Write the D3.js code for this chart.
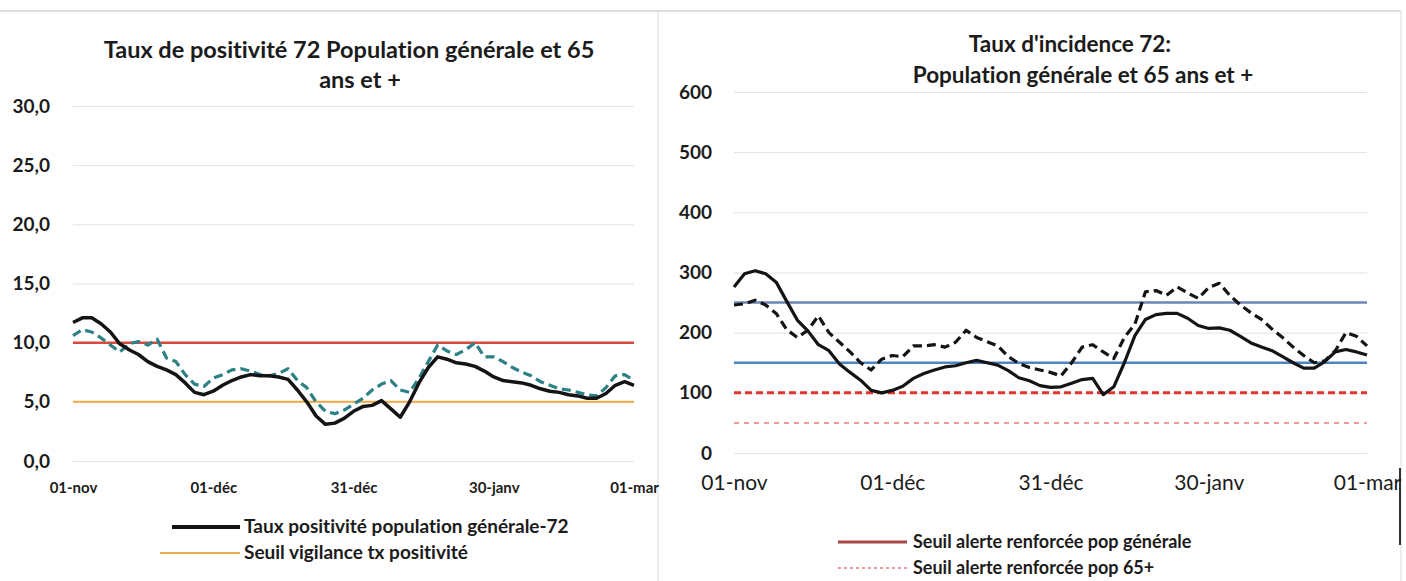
<!DOCTYPE html>
<html lang="fr">
<head>
<meta charset="UTF-8">
<title>Taux de positivité et taux d'incidence 72</title>
<script src="https://d3js.org/d3.v7.min.js"></script>
<style>
  body { margin: 0; background: #fff; }
  svg { display: block; font-family: Lato, "Open Sans", sans-serif; font-variant-ligatures: none; }
</style>
</head>
<body>
<div id="chart"></div>
<script>
// Données : un point tous les 2 jours depuis le 01-nov
const jours = [0, 2, 4, 6, 8, 10, 12, 14, 16, 18, 20, 22, 24, 26, 28, 30, 32, 34, 36, 38, 40,
  42, 44, 46, 48, 50, 52, 54, 56, 58, 60, 62, 64, 66, 68, 70, 72, 74, 76, 78, 80,
  82, 84, 86, 88, 90, 92, 94, 96, 98, 100, 102, 104, 106, 108, 110, 112, 114, 116, 118, 120];

// Taux de positivité (%)
const positiviteGen = [11.7, 12.1, 12.1, 11.6, 10.9, 9.9, 9.4, 9.0, 8.4, 8.0, 7.7,
  7.3, 6.6, 5.8, 5.6, 5.9, 6.4, 6.8, 7.1, 7.3, 7.2,
  7.2, 7.1, 6.9, 6.0, 5.0, 3.8, 3.1, 3.2, 3.6, 4.2,
  4.6, 4.7, 5.1, 4.4, 3.7, 5.0, 6.6, 7.9, 8.8, 8.6,
  8.3, 8.2, 8.0, 7.6, 7.1, 6.8, 6.7, 6.6, 6.4, 6.1,
  5.9, 5.8, 5.6, 5.5, 5.3, 5.3, 5.7, 6.4, 6.7, 6.4];
const positivite65 = [10.6, 11.1, 10.9, 10.4, 9.8, 9.2, 9.9, 10.1, 9.8, 10.3, 8.7,
  8.4, 7.3, 6.5, 6.3, 7.0, 7.3, 7.7, 7.8, 7.6, 7.3,
  7.2, 7.4, 7.8, 6.8, 6.2, 5.0, 4.2, 4.0, 4.3, 4.8,
  5.3, 6.0, 6.5, 6.8, 6.0, 5.8, 7.0, 8.4, 9.8, 9.3,
  9.0, 9.4, 10.0, 8.8, 8.8, 8.4, 7.9, 7.5, 7.2, 6.7,
  6.4, 6.1, 6.0, 5.8, 5.6, 5.5, 6.2, 7.2, 7.3, 6.8];
const seuilAlertePositivite = 10;
const seuilVigilancePositivite = 5;

// Taux d'incidence (pour 100 000)
const incidenceGen = [276, 298, 303, 298, 284, 252, 221, 203, 180, 170, 148,
  134, 121, 104, 100, 104, 111, 124, 132, 138, 143,
  145, 150, 154, 150, 146, 137, 125, 120, 112, 109,
  110, 116, 122, 124, 97, 110, 150, 195, 222, 230,
  232, 232, 224, 212, 207, 208, 204, 194, 183, 176,
  170, 160, 150, 141, 141, 152, 168, 172, 168, 163];
const incidence65 = [246, 248, 254, 246, 232, 205, 192, 204, 228, 200, 184,
  168, 150, 138, 156, 162, 160, 178, 178, 180, 176,
  184, 204, 192, 185, 178, 160, 149, 142, 138, 134,
  128, 150, 176, 180, 168, 157, 192, 214, 268, 270,
  262, 276, 266, 257, 275, 282, 262, 246, 233, 222,
  206, 192, 176, 162, 150, 153, 170, 200, 194, 178];
const seuilsIncidence = [250, 150, 100, 50];

const ticksDates = ["2020-11-01", "2020-12-01", "2020-12-31", "2021-01-30", "2021-03-01"];
const ticksLabels = ["01-nov", "01-déc", "31-déc", "30-janv", "01-mar"];
const ticksPositivite = [0, 5, 10, 15, 20, 25, 30];
const ticksIncidence = [0, 100, 200, 300, 400, 500, 600];

const titrePositivite = ["Taux de positivité 72 Population générale et 65", "ans et +"];
const titreIncidence = ["Taux d'incidence 72:", "Population générale et 65 ans et +"];
const legendePositivite = ["Taux positivité population générale-72", "Seuil vigilance tx positivité"];
const legendeIncidence = ["Seuil alerte renforcée pop générale", "Seuil alerte renforcée pop 65+"];

const width = 1406, height = 581;
const svg = d3.select('#chart').append('svg')
  .attr('width', width)
  .attr('height', height);

const parse = d3.timeParse('%Y-%m-%d');
const debut = parse(ticksDates[0]);
const fin = parse(ticksDates[ticksDates.length - 1]);
const dates = jours.map(j => d3.timeDay.offset(debut, j));
const fr = d3.formatLocale({ decimal: ',', thousands: ' ', grouping: [3], currency: ['', ' €'] });

// cadres du document scanné
svg.append('line').attr('x1', 0).attr('x2', 1401).attr('y1', 11).attr('y2', 11)
  .attr('stroke', '#d4d4d4').attr('stroke-width', 1.5);
svg.append('line').attr('x1', 658).attr('x2', 658).attr('y1', 11).attr('y2', height)
  .attr('stroke', '#dcdcdc');
svg.append('line').attr('x1', 1401).attr('x2', 1401).attr('y1', 11).attr('y2', height)
  .attr('stroke', '#dcdcdc');
svg.append('line').attr('x1', 1400).attr('x2', 1400).attr('y1', 468).attr('y2', 545)
  .attr('stroke', '#333').attr('stroke-width', 2);

function panneau(opt) {
  const x = d3.scaleTime().domain([debut, fin]).range([opt.x0, opt.x1]);
  const y = d3.scaleLinear().domain([0, opt.yMax]).range([opt.y0, opt.y1]);
  const g = svg.append('g');

  // grille + graduations verticales
  g.append('g')
    .attr('transform', `translate(${opt.x0},0)`)
    .call(d3.axisLeft(y).tickValues(opt.yTicks).tickFormat(opt.yFormat)
      .tickSize(-(opt.x1 - opt.x0)).tickPadding(opt.yPad))
    .call(a => a.select('.domain').remove())
    .call(a => a.selectAll('line').attr('stroke', '#e2e2e2'))
    .call(a => a.selectAll('text').attr('font-size', opt.yFont).attr('font-weight', 700)
      .attr('fill', '#1b1b1b').attr('font-family', 'Lato'));

  // axe des dates
  g.append('g')
    .attr('transform', `translate(0,${opt.y0})`)
    .call(d3.axisBottom(x).tickValues(ticksDates.map(parse))
      .tickFormat((d, i) => ticksLabels[i]).tickSize(0).tickPadding(opt.xPad))
    .call(a => a.select('.domain').remove())
    .call(a => a.selectAll('text').attr('font-size', opt.xFont).attr('font-weight', opt.xWeight)
      .attr('fill', '#1b1b1b').attr('font-family', 'Lato'));

  // titre
  g.append('g').selectAll('text')
    .data(opt.titre)
    .join('text')
    .attr('x', (d, i) => opt.titreX[i])
    .attr('y', (d, i) => opt.titreY[i])
    .attr('text-anchor', 'middle')
    .attr('font-size', opt.titreFont)
    .attr('font-weight', 700)
    .attr('fill', '#1b1b1b')
    .text(d => d);

  return { x, y, g };
}

// ---- Panneau gauche : taux de positivité ----
const p1 = panneau({
  x0: 73, x1: 634, y0: 461, y1: 106, yMax: 30,
  yTicks: ticksPositivite, yFormat: fr.format('.1f'), yPad: 23, yFont: 19,
  xPad: 21, xFont: 15, xWeight: 700,
  titre: titrePositivite, titreX: [349, 360], titreY: [58, 88], titreFont: 23.5
});

function seuil(p, v, couleur, largeur, tirets) {
  p.g.append('line')
    .attr('x1', p.x(debut)).attr('x2', p.x(fin))
    .attr('y1', p.y(v)).attr('y2', p.y(v))
    .attr('stroke', couleur)
    .attr('stroke-width', largeur)
    .attr('stroke-dasharray', tirets);
}

function courbe(p, valeurs, couleur, largeur, tirets) {
  const line = d3.line()
    .x((d, i) => p.x(dates[i]))
    .y(d => p.y(d));
  p.g.append('path')
    .datum(valeurs)
    .attr('fill', 'none')
    .attr('stroke', couleur)
    .attr('stroke-width', largeur)
    .attr('stroke-linejoin', 'round')
    .attr('stroke-dasharray', tirets)
    .attr('d', line);
}

seuil(p1, seuilAlertePositivite, '#d9493c', 2.5, null);
seuil(p1, seuilVigilancePositivite, '#eeab45', 2, null);
courbe(p1, positivite65, '#2c8186', 3.2, '9,5');
courbe(p1, positiviteGen, '#141414', 3.5, null);

// ---- Panneau droit : taux d'incidence ----
const p2 = panneau({
  x0: 734, x1: 1367, y0: 453, y1: 92, yMax: 600,
  yTicks: ticksIncidence, yFormat: fr.format('d'), yPad: 22, yFont: 19,
  xPad: 22, xFont: 21, xWeight: 400,
  titre: titreIncidence, titreX: [1070, 1083], titreY: [52, 83], titreFont: 22.5
});

seuil(p2, seuilsIncidence[0], '#6d86b6', 2.5, null);
seuil(p2, seuilsIncidence[1], '#4d84c4', 2.5, null);
seuil(p2, seuilsIncidence[2], '#e0362d', 3, '7,4');
seuil(p2, seuilsIncidence[3], '#f29a9a', 2, '5,5');
courbe(p2, incidence65, '#141414', 3.2, '9,5');
courbe(p2, incidenceGen, '#141414', 3.2, null);

// ---- Légendes ----
const leg1 = svg.append('g').attr('font-size', 19).attr('font-weight', 700).attr('fill', '#1b1b1b');
leg1.append('line').attr('x1', 172).attr('x2', 240).attr('y1', 527).attr('y2', 527)
  .attr('stroke', '#141414').attr('stroke-width', 4);
leg1.append('line').attr('x1', 160).attr('x2', 240).attr('y1', 553).attr('y2', 553)
  .attr('stroke', '#eeab45').attr('stroke-width', 2);
leg1.selectAll('text').data(legendePositivite).join('text')
  .attr('x', 244).attr('y', (d, i) => 533 + i * 26).text(d => d);

const leg2 = svg.append('g').attr('font-size', 18).attr('font-weight', 700).attr('fill', '#1b1b1b');
leg2.append('line').attr('x1', 838).attr('x2', 907).attr('y1', 542).attr('y2', 542)
  .attr('stroke', '#a84848').attr('stroke-width', 3);
leg2.append('line').attr('x1', 838).attr('x2', 907).attr('y1', 568).attr('y2', 568)
  .attr('stroke', '#f29a9a').attr('stroke-width', 2).attr('stroke-dasharray', '3,3');
leg2.selectAll('text').data(legendeIncidence).join('text')
  .attr('x', 913).attr('y', (d, i) => 548 + i * 26).text(d => d);
</script>
</body>
</html>
